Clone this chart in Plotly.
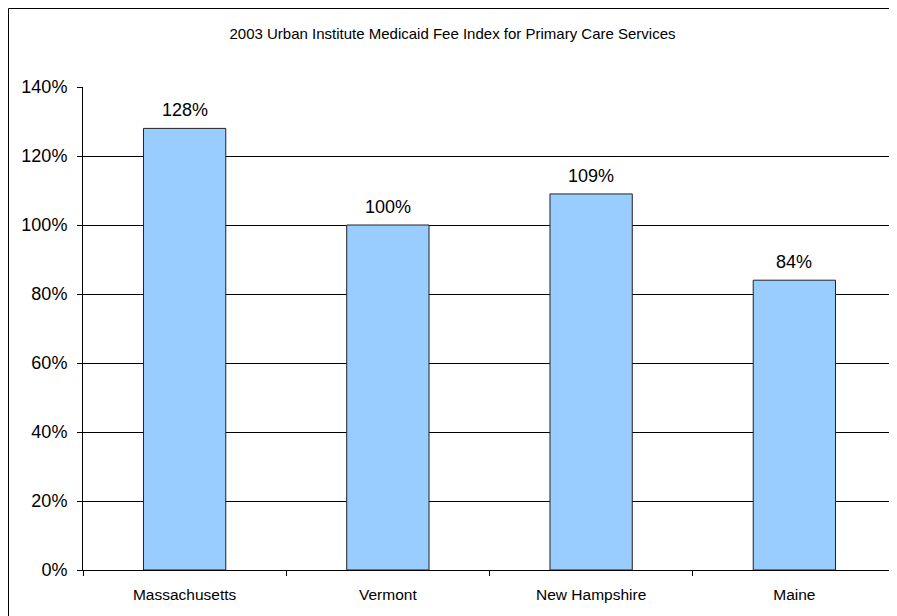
import plotly.graph_objects as go

states = ["Massachusetts", "Vermont", "New Hampshire", "Maine"]
fee_index = [1.28, 1.00, 1.09, 0.84]
fee_labels = ["128%", "100%", "109%", "84%"]
y_ticks = [0, 0.2, 0.4, 0.6, 0.8, 1.0, 1.2, 1.4]

# page has 8px body margin, so figure is drawn 8px smaller
W, H = 889, 608
ml, mr, mt, mb = 75, 1, 79, 46
pw = W - ml - mr
ph = H - mt - mb
FONT = "Liberation Sans, Arial"

fig = go.Figure(go.Bar(
    x=states, y=fee_index,
    marker=dict(color="#99CCFF", line=dict(color="#222222", width=1)),
    width=0.405,
))

for s, v, lab in zip(states, fee_index, fee_labels):
    fig.add_annotation(x=s, y=v, text=lab, showarrow=False,
                       yanchor="bottom", yshift=6,
                       font=dict(family=FONT, size=18, color="black"))

fig.update_layout(
    width=W, height=H,
    margin=dict(l=ml, r=mr, t=mt, b=mb),
    paper_bgcolor="white", plot_bgcolor="white",
    font=dict(family=FONT, color="black"),
    title=dict(text="2003 Urban Institute Medicaid Fee Index for Primary Care Services",
               x=0.5, xanchor="center", y=1 - 26 / H, yanchor="middle",
               font=dict(size=15, color="black")),
    showlegend=False,
)
fig.update_yaxes(range=[0, 1.4], tickvals=y_ticks, tickformat=".0%",
                 showgrid=True, gridcolor="black", gridwidth=1,
                 showline=True, linecolor="black", linewidth=1,
                 ticks="outside", ticklen=5, tickcolor="black",
                 tickfont=dict(size=18), zeroline=False,
                 ticklabelstandoff=6)
fig.update_xaxes(showline=True, linecolor="black", linewidth=1,
                 ticks="outside", ticklen=5, tickcolor="black",
                 tickson="boundaries", tickfont=dict(size=15.5),
                 ticklabelstandoff=10)

# outer chart border
x0 = (0.5 - ml) / pw
y1 = (H - mb - 0.5) / ph
fig.add_shape(type="rect", xref="paper", yref="paper",
              x0=x0, x1=1.2, y0=-0.3, y1=y1,
              line=dict(color="black", width=1), fillcolor="rgba(0,0,0,0)", layer="below")

fig.write_html("out.html")
